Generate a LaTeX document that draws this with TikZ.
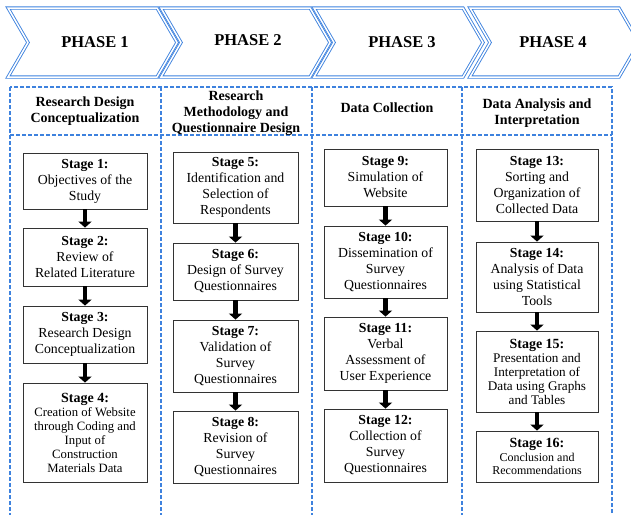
\documentclass[tikz,border=0pt]{standalone}
\usepackage{fontspec}
\setmainfont{Liberation Serif}
\usetikzlibrary{arrows.meta}
\definecolor{fblue}{RGB}{62,130,222}
\begin{document}
\begin{tikzpicture}[x=1pt,y=-1pt,
  chev/.style={draw=fblue, double=white, double distance=1.5pt, line width=0.9pt, line join=miter},
  frame/.style={draw=fblue, line width=1.3pt, dash pattern=on 4pt off 2pt},
  stagebox/.style={draw=black!80, line width=0.8pt, align=center, inner sep=1pt, font=\fontsize{13.8}{16}\selectfont},
  hdr/.style={align=center, font=\bfseries\fontsize{14}{16}\selectfont},
  ph/.style={font=\bfseries\fontsize{16.5}{18}\selectfont},
  flow/.style={line width=4.5pt, -{Triangle[width=13pt,length=6pt]}}
]
\useasboundingbox (0,0) rectangle (631,514);
\clip (0,0) rectangle (631,514);
% chevrons
\foreach \L in {8,161,314,470}{
  \draw[chev] (\L,8) -- ({\L+149},8) -- ({\L+169},42.5) -- ({\L+149},77) -- (\L,77) -- ({\L+20},42.5) -- cycle;
}
\node[ph] (p1) at (95,42) {PHASE 1};
\node[ph] (p2) at (248,40) {PHASE 2};
\node[ph] (p3) at (402,42) {PHASE 3};
\node[ph] (p4) at (553,42) {PHASE 4};
% dashed frame
\draw[frame] (10,87) rectangle (612,530);
\draw[frame] (10,135) -- (612,135);
\draw[frame] (161,87) -- (161,530);
\draw[frame] (312,87) -- (312,530);
\draw[frame] (462,87) -- (462,530);
% headers
\node[hdr] (h1) at (85,111) {Research Design\\Conceptualization};
\node[hdr] (h2) at (236,113) {Research\\Methodology and\\Questionnaire Design};
\node[hdr] (h3) at (387,108) {Data Collection};
\node[hdr] (h4) at (537,113) {Data Analysis and\\Interpretation};
% column 1
\node[stagebox, minimum width=124, minimum height=56] (s1) at (85,181) {\textbf{Stage 1:}\\Objectives of the\\Study};
\node[stagebox, minimum width=124, minimum height=58] (s2) at (85,257) {\textbf{Stage 2:}\\Review of\\Related Literature};
\node[stagebox, minimum width=124, minimum height=57] (s3) at (85,334.5) {\textbf{Stage 3:}\\Research Design\\Conceptualization};
\node[stagebox, minimum width=124, minimum height=99, font=\fontsize{12.7}{14}\selectfont] (s4) at (85,432.5) {{\fontsize{14}{16}\selectfont\textbf{Stage 4:}}\\Creation of Website\\through Coding and\\Input of\\Construction\\Materials Data};
% column 2
\node[stagebox, minimum width=125, minimum height=71] (s5) at (235.5,187.5) {\textbf{Stage 5:}\\Identification and\\Selection of\\Respondents};
\node[stagebox, minimum width=125, minimum height=57] (s6) at (235.5,271.5) {\textbf{Stage 6:}\\Design of Survey\\Questionnaires};
\node[stagebox, minimum width=125, minimum height=72] (s7) at (235.5,356) {\textbf{Stage 7:}\\Validation of\\Survey\\Questionnaires};
\node[stagebox, minimum width=125, minimum height=72] (s8) at (235.5,447) {\textbf{Stage 8:}\\Revision of\\Survey\\Questionnaires};
% column 3
\node[stagebox, minimum width=123, minimum height=57] (s9) at (385.5,177.5) {\textbf{Stage 9:}\\Simulation of\\Website};
\node[stagebox, minimum width=123, minimum height=72] (s10) at (385.5,262) {\textbf{Stage 10:}\\Dissemination of\\Survey\\Questionnaires};
\node[stagebox, minimum width=123, minimum height=73] (s11) at (385.5,353.5) {\textbf{Stage 11:}\\Verbal\\Assessment of\\User Experience};
\node[stagebox, minimum width=123, minimum height=73] (s12) at (385.5,445.5) {\textbf{Stage 12:}\\Collection of\\Survey\\Questionnaires};
% column 4
\node[stagebox, minimum width=122, minimum height=72] (s13) at (537,185) {\textbf{Stage 13:}\\Sorting and\\Organization of\\Collected Data};
\node[stagebox, minimum width=122, minimum height=70] (s14) at (537,277) {\textbf{Stage 14:}\\Analysis of Data\\using Statistical\\Tools};
\node[stagebox, minimum width=122, minimum height=81, font=\fontsize{13.2}{14}\selectfont] (s15) at (537,371.5) {{\fontsize{14}{16}\selectfont\textbf{Stage 15:}}\\Presentation and\\Interpretation of\\Data using Graphs\\and Tables};
\node[stagebox, minimum width=122, minimum height=51, font=\fontsize{12}{13.5}\selectfont] (s16) at (537,456.5) {{\fontsize{14}{16}\selectfont\textbf{Stage 16:}}\\Conclusion and\\Recommendations};
% arrows
\draw[flow] (s1) -- (s2);
\draw[flow] (s2) -- (s3);
\draw[flow] (s3) -- (s4);
\draw[flow] (s5) -- (s6);
\draw[flow] (s6) -- (s7);
\draw[flow] (s7) -- (s8);
\draw[flow] (s9) -- (s10);
\draw[flow] (s10) -- (s11);
\draw[flow] (s11) -- (s12);
\draw[flow] (s13) -- (s14);
\draw[flow] (s14) -- (s15);
\draw[flow] (s15) -- (s16);
\end{tikzpicture}
\end{document}
